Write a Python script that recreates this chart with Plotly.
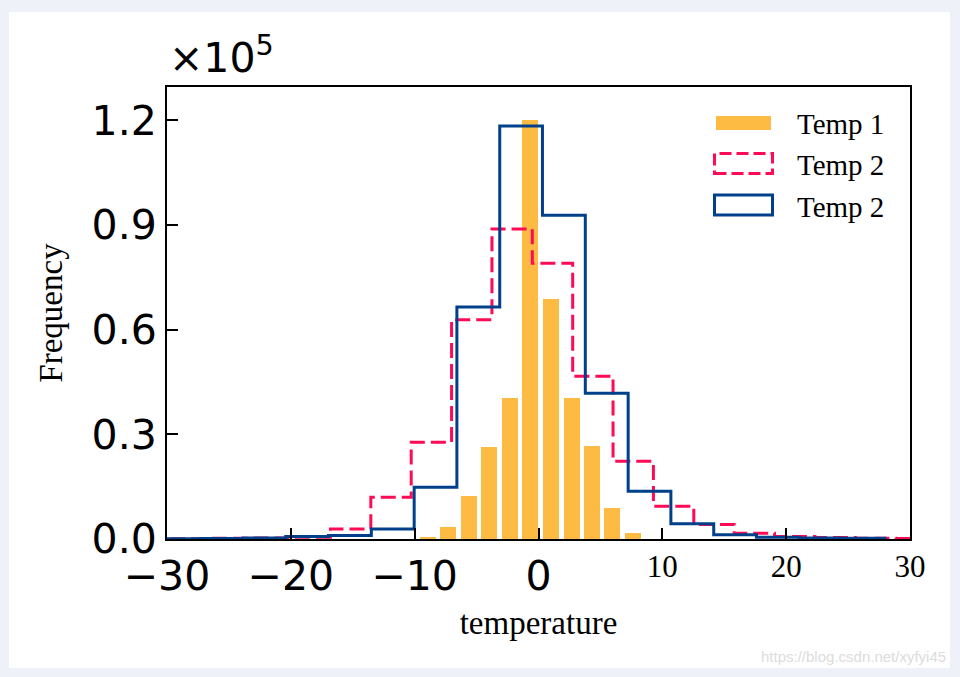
import plotly.graph_objects as go

# ---- data ----
temp1_centers = [-8.90, -7.29, -5.61, -3.97, -2.30, -0.66, 1.01, 2.68, 4.32, 5.96, 7.66]
temp1_counts = [400, 3580, 12190, 26240, 40570, 120000, 68870, 40290, 26810, 8830, 1580]
temp1_width = 1.3

temp2a_edges = [-33.1, -29.84, -26.58, -23.32, -20.06, -16.8, -13.54, -10.28, -7.02, -3.76,
                -0.5, 2.76, 6.02, 9.28, 12.54, 15.8, 19.06, 22.32, 25.58, 28.84, 32.1]
temp2a_counts = [100, 100, 200, 300, 500, 2900, 12000, 27750, 62900, 88900,
                 79100, 46700, 22300, 9400, 4150, 1650, 700, 400, 250, 150]

temp2b_edges = [-30.78, -27.32, -23.87, -20.41, -16.96, -13.5, -10.04, -6.59, -3.13, 0.32,
                3.78, 7.24, 10.69, 14.15, 17.6, 21.06, 24.52, 27.97]
temp2b_counts = [100, 150, 300, 700, 1000, 2900, 14850, 66500, 118400, 92800,
                 41800, 13700, 4350, 1200, 500, 300, 200]

x_ticks = [-30, -20, -10, 0, 10, 20, 30]
x_ticktext = ["−30", "−20", "−10", "0", "10", "20", "30"]
y_ticks = [0, 30000, 60000, 90000, 120000]
y_ticktext = ["0.0", "0.3", "0.6", "0.9", "1.2"]
legend_labels = ["Temp 1", "Temp 2", "Temp 2"]

ORANGE = "#FEBB44"
CRIMSON = "#FF0A55"
NAVY = "#00408A"
SERIF = "Times New Roman, Liberation Serif, serif"
SANS = "DejaVu Sans"

W, H = 960, 677
ML, MR, MT, MB = 167, 50, 87, 138
PW, PH = W - ML - MR, H - MT - MB


def px(x):
    return (x - ML) / PW


def py(y):
    return (H - MB - y) / PH


def step_xy(edges, counts):
    xs = [edges[0]] + list(edges)
    ys = [0] + list(counts) + [0]
    return xs, ys


fig = go.Figure()
fig.add_trace(go.Bar(x=temp1_centers, y=temp1_counts, width=temp1_width,
                     marker=dict(color=ORANGE, line=dict(width=0)),
                     name=legend_labels[0], showlegend=False))
xa, ya = step_xy(temp2a_edges, temp2a_counts)
fig.add_trace(go.Scatter(x=xa, y=ya, mode="lines", line_shape="hv",
                         line=dict(color=CRIMSON, width=3, dash="15px,6px"),
                         name=legend_labels[1], showlegend=False))
xb, yb = step_xy(temp2b_edges, temp2b_counts)
fig.add_trace(go.Scatter(x=xb, y=yb, mode="lines", line_shape="hv",
                         line=dict(color=NAVY, width=3),
                         name=legend_labels[2], showlegend=False))

# x tick labels: negatives in DejaVu Sans, positives in serif (as in the original)
xt = []
for v, t in zip(x_ticks, x_ticktext):
    if v > 0:
        xt.append('<span style="font-family:Liberation Serif;font-size:31px;baseline-shift:13px">%s</span>' % t)
    else:
        xt.append(t)

fig.update_xaxes(range=[-30, 30], tickvals=x_ticks, ticktext=xt,
                 ticks="inside", ticklen=11, tickwidth=2, tickcolor="black",
                 showline=True, linecolor="black", linewidth=2, mirror=True,
                 showgrid=False, zeroline=False,
                 tickfont=dict(family=SANS, size=41, color="black"),
                 title=dict(text="temperature", font=dict(family=SERIF, size=33, color="black"),
                            standoff=12))
fig.update_yaxes(range=[0, 129600], tickvals=y_ticks, ticktext=y_ticktext,
                 ticks="inside", ticklen=11, tickwidth=2, tickcolor="black",
                 showline=True, linecolor="black", linewidth=2, mirror=True,
                 showgrid=False, zeroline=False,
                 tickfont=dict(family=SANS, size=41, color="black"),
                 title=dict(text="Frequency", font=dict(family=SERIF, size=33, color="black"),
                            standoff=19))

shapes = [
    dict(type="rect", xref="paper", yref="paper", x0=px(9), x1=px(950), y0=py(668), y1=py(12),
         fillcolor="white", line=dict(width=0), layer="below"),
    dict(type="rect", xref="paper", yref="paper", x0=px(716), x1=px(771), y0=py(130), y1=py(116),
         fillcolor=ORANGE, line=dict(width=0)),
    dict(type="rect", xref="paper", yref="paper", x0=px(714.5), x1=px(772.5), y0=py(173.5), y1=py(153.5),
         fillcolor="rgba(0,0,0,0)", line=dict(color=CRIMSON, width=3, dash="12px,5px")),
    dict(type="rect", xref="paper", yref="paper", x0=px(714.5), x1=px(772.5), y0=py(215), y1=py(195),
         fillcolor="rgba(0,0,0,0)", line=dict(color=NAVY, width=3)),
]

annotations = [
    dict(text="×10<sup>5</sup>", xref="paper", yref="paper", x=px(167), y=py(84),
         xanchor="left", yanchor="bottom", showarrow=False,
         font=dict(family=SANS, size=41, color="black")),
    dict(text="https://blog.csdn.net/xyfyi45", xref="paper", yref="paper", x=px(948), y=py(656),
         xanchor="right", yanchor="middle", showarrow=False,
         font=dict(family="Liberation Sans", size=15, color="#dcdcdc")),
]
for lab, yc in zip(legend_labels, [124, 165, 207]):
    annotations.append(dict(text=lab, xref="paper", yref="paper", x=px(795), y=py(yc),
                            xanchor="left", yanchor="middle", showarrow=False,
                            font=dict(family=SERIF, size=29, color="black")))

fig.update_layout(width=W, height=H, margin=dict(l=ML, r=MR, t=MT, b=MB),
                  paper_bgcolor="#EEF2F8", plot_bgcolor="white",
                  bargap=0, showlegend=False, shapes=shapes, annotations=annotations)

fig.write_html("out.html", config={"displayModeBar": False},
               post_script="document.body.style.margin='0px';document.body.style.background='#EEF2F8';")
